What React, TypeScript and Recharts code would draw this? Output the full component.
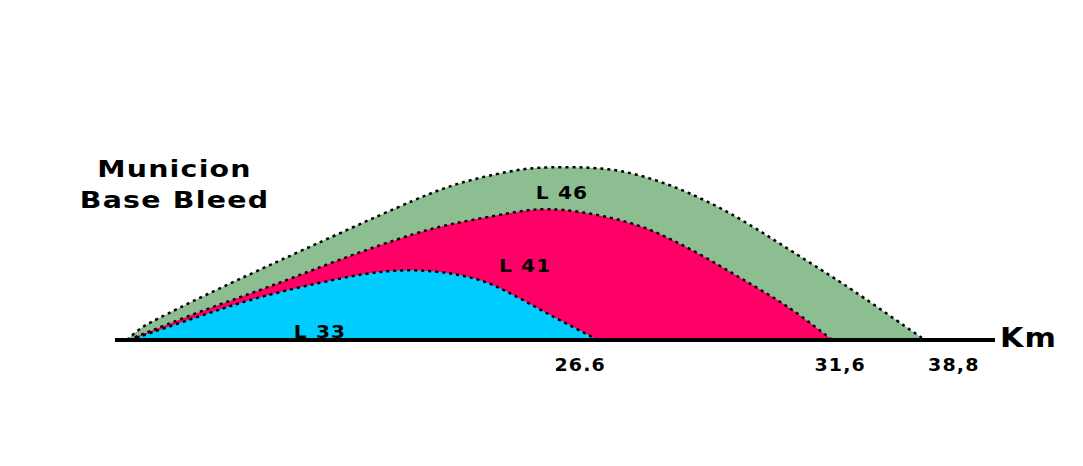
import React from "react";
import { ComposedChart, Area, XAxis, YAxis, ReferenceLine, ReferenceDot } from "recharts";

// Distance along the (not-to-scale) drawing, and height of each trajectory
const l46 = [
  { u: 0.25, h: 0 }, { u: 1.9, h: 12 }, { u: 3.5, h: 19 }, { u: 9.75, h: 44 },
  { u: 18.1, h: 75 }, { u: 26.9, h: 107 }, { u: 36.9, h: 143 }, { u: 41.9, h: 158 },
  { u: 48.1, h: 169 }, { u: 51.5, h: 173 }, { u: 57.75, h: 173 }, { u: 61.9, h: 170 },
  { u: 66.5, h: 160 }, { u: 70.6, h: 147 }, { u: 74.75, h: 131 }, { u: 79, h: 111 },
  { u: 83.1, h: 90 }, { u: 87.25, h: 69 }, { u: 90.6, h: 52 }, { u: 96.9, h: 17 },
  { u: 100, h: 0 },
];
const l41 = [
  { u: 0.4, h: 0 }, { u: 9.75, h: 30 }, { u: 18.1, h: 53 }, { u: 26.9, h: 81 },
  { u: 36.9, h: 109 }, { u: 41.9, h: 118 }, { u: 48.1, h: 127 }, { u: 51, h: 131 },
  { u: 54.6, h: 131 }, { u: 59.4, h: 125 }, { u: 64.4, h: 115 }, { u: 68.5, h: 100 },
  { u: 72.75, h: 82 }, { u: 76.9, h: 62 }, { u: 81, h: 43 }, { u: 84.4, h: 25 },
  { u: 88.4, h: 0 },
];
const l33 = [
  { u: 0.6, h: 0 }, { u: 9.75, h: 25 }, { u: 16.9, h: 44 }, { u: 26.9, h: 62 },
  { u: 32.75, h: 70 }, { u: 38.5, h: 70 }, { u: 44, h: 62 }, { u: 46.9, h: 52 },
  { u: 50, h: 39 }, { u: 53.1, h: 25 }, { u: 56.25, h: 12 }, { u: 59.1, h: 0 },
];

const tickPositions = [56.9, 89.4, 103.6];
const tickLabels = ["26.6", "31,6", "38,8"];

const seriesLabels = [
  { text: "L 46", u: 54.5, h: 147 },
  { text: "L 41", u: 49.9, h: 74 },
  { text: "L 33", u: 24.25, h: 8 },
];

const title = ["Municion", "Base Bleed"];
const unitLabel = "Km";

const FONT = "'DejaVu Sans', Verdana, sans-serif";

const SeriesLabel = (props: any) => {
  const { viewBox, value } = props;
  const cx = viewBox.x + (viewBox.width || 0) / 2;
  const cy = viewBox.y + (viewBox.height || 0) / 2;
  return (
    <text transform={`translate(${cx + 1},${cy}) scale(1.12,1)`} textAnchor="middle" dominantBaseline="central"
      fontFamily={FONT} fontWeight="bold" fontSize={18} fill="#000" letterSpacing={1}>
      {value}
    </text>
  );
};

const Tick = (props: any) => {
  const { x, y, payload } = props;
  const idx = tickPositions.indexOf(payload.value);
  return (
    <text transform={`translate(${x},${y}) scale(1.12,1)`} dy="0.71em" textAnchor="middle" fontFamily={FONT} fontWeight="bold"
      fontSize={17} fill="#000" letterSpacing={1}>
      {idx >= 0 ? tickLabels[idx] : ""}
    </text>
  );
};

export default function App() {
  return (
    <div style={{ position: "absolute", left: 0, top: 0, width: 1083, height: 466, background: "#fff" }}>
      <ComposedChart width={1083} height={466} margin={{ top: 140, right: 88, bottom: 96, left: 115 }}>
        <XAxis type="number" dataKey="u" domain={[-1.25, 108.75]} ticks={tickPositions}
          axisLine={false} tickLine={false} height={30} tickMargin={13}
          tick={<Tick />} allowDataOverflow />
        <YAxis type="number" domain={[0, 200]} hide allowDataOverflow />
        <Area data={l46} dataKey="h" type="basis" fill="#8DBE92" fillOpacity={1}
          stroke="#000" strokeWidth={2.5} strokeDasharray="3 4" isAnimationActive={false} baseValue={0} />
        <Area data={l41} dataKey="h" type="basis" fill="#FF0066" fillOpacity={1}
          stroke="#000" strokeWidth={2.5} strokeDasharray="3 4" isAnimationActive={false} baseValue={0} />
        <Area data={l33} dataKey="h" type="basis" fill="#00CCFF" fillOpacity={1}
          stroke="#000" strokeWidth={2.5} strokeDasharray="3 4" isAnimationActive={false} baseValue={0} />
        <ReferenceLine y={0} stroke="#000" strokeWidth={4} ifOverflow="visible" />
        {seriesLabels.map((s) => (
          <ReferenceDot key={s.text} x={s.u} y={s.h} r={0} fill="none" stroke="none"
            label={<SeriesLabel value={s.text} />} ifOverflow="visible" />
        ))}
      </ComposedChart>
      <div style={{ position: "absolute", left: 72, top: 154, width: 205, textAlign: "center",
        fontFamily: FONT, fontWeight: "bold", fontSize: 23, lineHeight: "31px", color: "#000",
        letterSpacing: 1, transform: "scaleX(1.235)", transformOrigin: "50% 50%" }}>
        {title.map((t) => <div key={t}>{t}</div>)}
      </div>
      <div style={{ position: "absolute", left: 1000, top: 324, fontFamily: FONT, fontWeight: "bold",
        fontSize: 26, lineHeight: "28px", color: "#000", letterSpacing: 1,
        transform: "scaleX(1.16)", transformOrigin: "0 50%" }}>
        {unitLabel}
      </div>
    </div>
  );
}
